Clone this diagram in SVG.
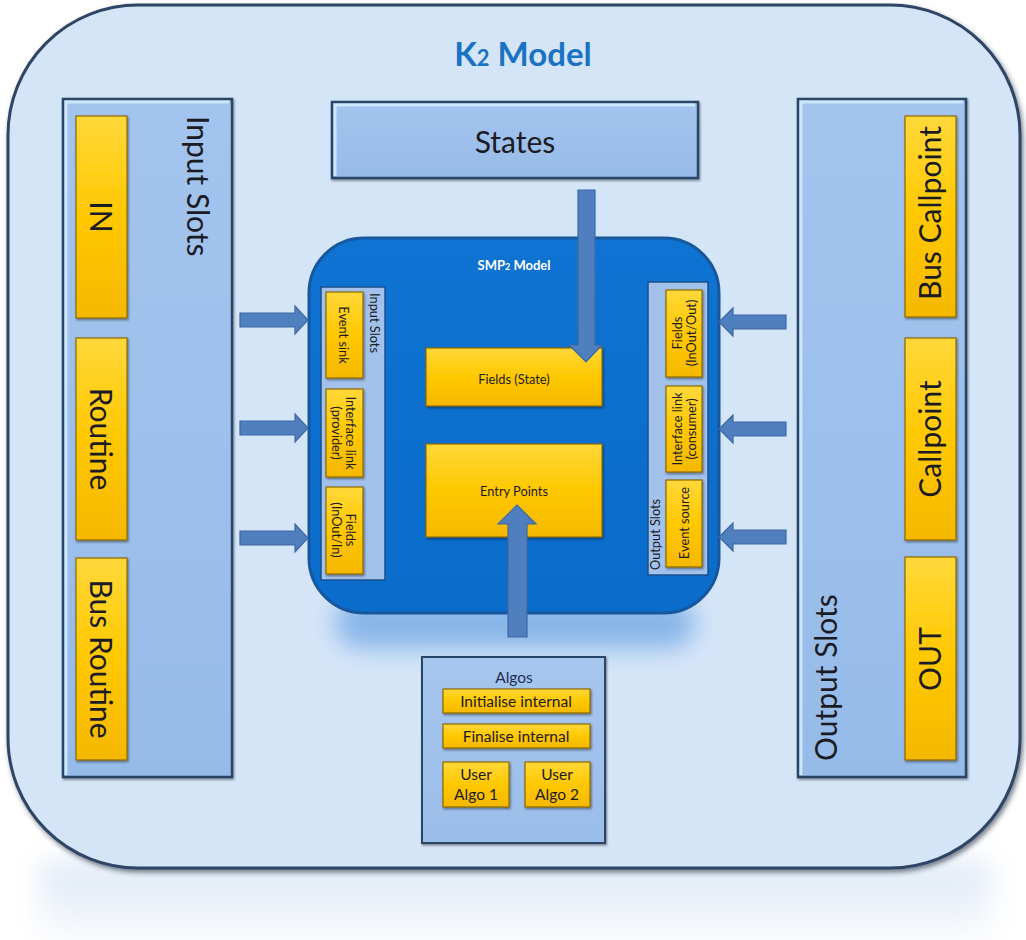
<svg xmlns="http://www.w3.org/2000/svg" width="1026" height="940" viewBox="0 0 1026 940">
<defs>
<linearGradient id="yel" x1="0" y1="0" x2="0" y2="1">
<stop offset="0" stop-color="#ffd83a"/>
<stop offset="0.5" stop-color="#ffc800"/>
<stop offset="1" stop-color="#f5b800"/>
</linearGradient>
<linearGradient id="panel" x1="0" y1="0" x2="0" y2="1">
<stop offset="0" stop-color="#a3c4ee"/>
<stop offset="1" stop-color="#97bbe9"/>
</linearGradient>
<linearGradient id="smp" x1="0" y1="0" x2="0" y2="1">
<stop offset="0" stop-color="#0e73d2"/>
<stop offset="1" stop-color="#0a6ccb"/>
</linearGradient>
<linearGradient id="refl" x1="0" y1="0" x2="0" y2="1">
<stop offset="0" stop-color="#d3e1f2"/>
<stop offset="1" stop-color="#ffffff"/>
</linearGradient>
<linearGradient id="algos" x1="0" y1="0" x2="0" y2="1">
<stop offset="0" stop-color="#a6c6ee"/>
<stop offset="1" stop-color="#9bbde9"/>
</linearGradient>
<filter id="shadow" x="-5%" y="-5%" width="110%" height="112%">
<feDropShadow dx="2" dy="3" stdDeviation="2.5" flood-color="#1c2a40" flood-opacity="0.6"/>
</filter>
<filter id="sm" x="-10%" y="-10%" width="125%" height="125%">
<feDropShadow dx="1" dy="1.5" stdDeviation="1" flood-color="#000" flood-opacity="0.45"/>
</filter>
<filter id="blur" x="-30%" y="-100%" width="160%" height="300%">
<feGaussianBlur stdDeviation="12"/>
</filter>
<filter id="blur2" x="-10%" y="-50%" width="120%" height="200%">
<feGaussianBlur stdDeviation="14"/>
</filter>
<style>
.t{font-family:Lato,"Open Sans","Liberation Sans",sans-serif;fill:#1b1b24}
.yb{fill:url(#yel);stroke:#8d6a00;stroke-width:1.2;filter:url(#sm)}
.pn{fill:url(#panel);stroke:#2b4466;stroke-width:2.5;filter:url(#sm)}
.hl{fill:none;stroke:#d4ecff;stroke-width:3;stroke-opacity:0.85}
.ip{fill:#a2c2ec;stroke:#1b4f8c;stroke-width:1.5}
.arr{fill:#4f7fbf;stroke:#3d68a4;stroke-width:1.2}
.big{font-size:30px}
.mid{font-size:15.5px}
.sm{font-size:12.8px}
</style>
</defs>

<rect x="0" y="0" width="1026" height="940" fill="#ffffff"/>
<!-- reflection below container -->
<rect x="40" y="862" width="950" height="90" fill="url(#refl)" filter="url(#blur2)" opacity="0.8"/>

<g id="k2-model">
<rect x="8" y="5" width="1012" height="863" rx="130" ry="130" fill="#d5e5f8" stroke="#2f4465" stroke-width="3" filter="url(#shadow)"/>
<text class="t" x="523" y="66" text-anchor="middle" font-size="33" font-weight="bold" style="fill:#1a72c2">K<tspan font-size="22">2</tspan> Model</text>
</g>

<!-- SMP2 glow -->
<rect x="335" y="598" width="360" height="50" rx="25" fill="#7fb0e6" filter="url(#blur)" opacity="0.9"/>

<g id="input-slots">
<rect class="pn" x="63" y="99" width="169" height="678"/>
<polyline class="hl" points="66,775 66,102 229,102"/>
<text class="t big" transform="translate(187,116) rotate(90)">Input Slots</text>
</g>
<g id="in">
<rect class="yb" x="76" y="116" width="51" height="202"/>
<text class="t big" transform="translate(101,217) rotate(90)" text-anchor="middle" dy="0.36em">IN</text>
</g>
<g id="routine">
<rect class="yb" x="76" y="338" width="51" height="202"/>
<text class="t big" transform="translate(101,439) rotate(90)" text-anchor="middle" dy="0.36em">Routine</text>
</g>
<g id="bus-routine">
<rect class="yb" x="76" y="558" width="51" height="202"/>
<text class="t big" transform="translate(101,659) rotate(90)" text-anchor="middle" dy="0.36em">Bus Routine</text>
</g>

<g id="output-slots">
<rect class="pn" x="798" y="99" width="168" height="678"/>
<polyline class="hl" points="801,775 801,102 963,102"/>
<text class="t big" transform="translate(837,761) rotate(-90)">Output Slots</text>
</g>
<g id="bus-callpoint">
<rect class="yb" x="905" y="116" width="51" height="201"/>
<text class="t big" transform="translate(930,213) rotate(-90)" text-anchor="middle" dy="0.36em">Bus Callpoint</text>
</g>
<g id="callpoint">
<rect class="yb" x="905" y="338" width="51" height="202"/>
<text class="t big" transform="translate(930,439) rotate(-90)" text-anchor="middle" dy="0.36em">Callpoint</text>
</g>
<g id="out">
<rect class="yb" x="905" y="557" width="51" height="203"/>
<text class="t big" transform="translate(930,659) rotate(-90)" text-anchor="middle" dy="0.36em">OUT</text>
</g>

<g id="states">
<rect class="pn" x="332" y="102" width="366" height="76"/>
<polyline class="hl" points="335,176 335,105 695,105"/>
<text class="t big" x="515" y="142" text-anchor="middle" dy="0.36em">States</text>
</g>

<g id="smp2-model">
<rect x="309" y="238" width="410" height="375" rx="55" ry="55" fill="url(#smp)" stroke="#17579e" stroke-width="3"/>
<text x="514" y="270" text-anchor="middle" font-family="Lato,'Open Sans','Liberation Sans',sans-serif" font-weight="bold" font-size="13" fill="#ffffff">SMP<tspan font-size="9">2</tspan> Model</text>
</g>

<g id="smp2-input-slots">
<rect class="ip" x="321" y="287" width="64" height="293"/>
<text class="t sm" transform="translate(370,293) rotate(90)">Input Slots</text>
</g>
<g id="event-sink">
<rect class="yb" x="326" y="292" width="37" height="86"/>
<text class="t sm" transform="translate(344,335) rotate(90)" text-anchor="middle" dy="0.36em">Event sink</text>
</g>
<g id="interface-link-provider">
<rect class="yb" x="326" y="389" width="37" height="88"/>
<text class="t sm" transform="translate(344,433) rotate(90)" text-anchor="middle"><tspan x="0" y="-2">Interface link</tspan><tspan x="0" y="12">(provider)</tspan></text>
</g>
<g id="fields-inout-in">
<rect class="yb" x="326" y="487" width="37" height="87"/>
<text class="t sm" transform="translate(344,530) rotate(90)" text-anchor="middle"><tspan x="0" y="-2">Fields</tspan><tspan x="0" y="12">(InOut/In)</tspan></text>
</g>

<g id="smp2-output-slots">
<rect class="ip" x="648" y="282" width="60" height="293"/>
<text class="t sm" transform="translate(660,570) rotate(-90)">Output Slots</text>
</g>
<g id="fields-inout-out">
<rect class="yb" x="666" y="290" width="36" height="87"/>
<text class="t sm" transform="translate(684,333) rotate(-90)" text-anchor="middle"><tspan x="0" y="-2">Fields</tspan><tspan x="0" y="12">(InOut/Out)</tspan></text>
</g>
<g id="interface-link-consumer">
<rect class="yb" x="666" y="386" width="36" height="86"/>
<text class="t sm" transform="translate(684,429) rotate(-90)" text-anchor="middle"><tspan x="0" y="-2">Interface link</tspan><tspan x="0" y="12">(consumer)</tspan></text>
</g>
<g id="event-source">
<rect class="yb" x="666" y="480" width="36" height="87"/>
<text class="t sm" transform="translate(684,523) rotate(-90)" text-anchor="middle" dy="0.36em">Event source</text>
</g>

<g id="fields-state">
<rect class="yb" x="426" y="348" width="176" height="58"/>
<text class="t sm" x="514" y="379" text-anchor="middle" dy="0.36em">Fields (State)</text>
</g>
<g id="entry-points">
<rect class="yb" x="426" y="444" width="176" height="93"/>
<text class="t sm" x="514" y="491" text-anchor="middle" dy="0.36em">Entry Points</text>
</g>

<g id="algos">
<rect x="422" y="657" width="183" height="186" fill="url(#algos)" stroke="#2b4466" stroke-width="2" filter="url(#sm)"/>
<text class="t mid" x="514" y="677" text-anchor="middle" dy="0.36em" style="fill:#1d2f55">Algos</text>
</g>
<g id="initialise-internal">
<rect class="yb" x="443" y="689" width="147" height="24"/>
<text class="t mid" x="516" y="701" text-anchor="middle" dy="0.36em">Initialise internal</text>
</g>
<g id="finalise-internal">
<rect class="yb" x="443" y="724" width="147" height="24"/>
<text class="t mid" x="516" y="736" text-anchor="middle" dy="0.36em">Finalise internal</text>
</g>
<g id="user-algo-1">
<rect class="yb" x="443" y="762" width="66" height="45"/>
<text class="t mid" x="476" y="784" text-anchor="middle"><tspan x="476" y="780">User</tspan><tspan x="476" y="800">Algo 1</tspan></text>
</g>
<g id="user-algo-2">
<rect class="yb" x="525" y="762" width="65" height="45"/>
<text class="t mid" x="557" y="784" text-anchor="middle"><tspan x="557" y="780">User</tspan><tspan x="557" y="800">Algo 2</tspan></text>
</g>

<g id="connectors">
<polygon class="arr" points="578,190 595,190 595,345 602,345 586,362 569,345 578,345"/>
<polygon class="arr" points="508,637 527,637 527,524 536,524 517,505 498,524 508,524"/>
<polygon class="arr" points="240,313 295,313 295,306 308,320 295,334 295,327 240,327"/>
<polygon class="arr" points="240,421 295,421 295,414 308,428 295,442 295,435 240,435"/>
<polygon class="arr" points="240,531 295,531 295,524 308,538 295,552 295,545 240,545"/>
<polygon class="arr" points="786,315 733,315 733,308 719,322 733,336 733,329 786,329"/>
<polygon class="arr" points="786,422 733,422 733,415 719,429 733,443 733,436 786,436"/>
<polygon class="arr" points="786,530 733,530 733,523 719,537 733,551 733,544 786,544"/>
</g>
</svg>
